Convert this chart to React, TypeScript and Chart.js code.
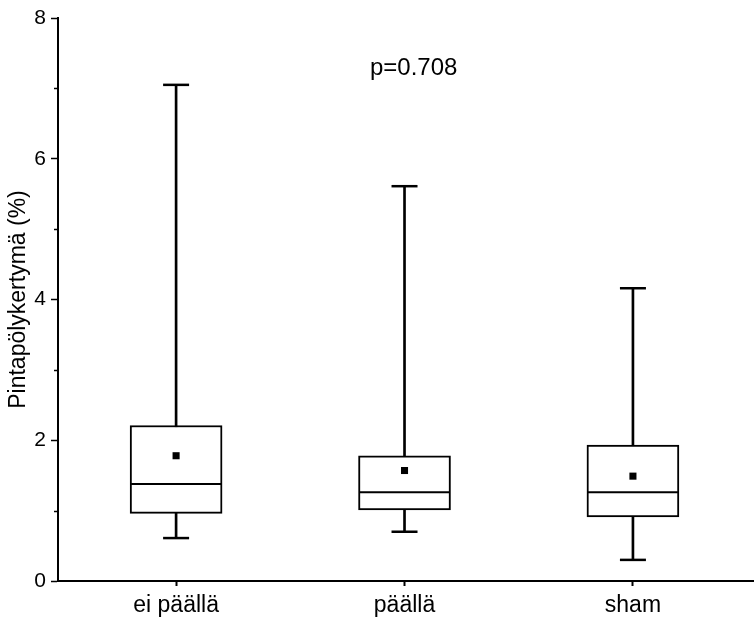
import React, { useEffect, useRef } from 'react';
import { Chart, registerables } from 'chart.js';

Chart.register(...registerables);

// ---- data ----
const categories = ['ei päällä', 'päällä', 'sham'];
const whiskerLow = [0.61, 0.70, 0.30];
const q1 = [0.96, 1.01, 0.91];
const median = [1.38, 1.26, 1.26];
const q3 = [2.21, 1.78, 1.93];
const whiskerHigh = [7.05, 5.61, 4.16];
const mean = [1.78, 1.57, 1.49];
const yMajorTicks = [0, 2, 4, 6, 8];
const yMinorTicks = [1, 3, 5, 7];
const yTitle = 'Pintapölykertymä (%)';
const pValueText = 'p=0.708';
const pValueAt = { x: 2.04, y: 7.29 };

const FONT = "'Liberation Sans', Arial, sans-serif";

export default function App() {
  const canvasRef = useRef<HTMLCanvasElement | null>(null);

  useEffect(() => {
    const canvas = canvasRef.current;
    if (!canvas) return;
    const xs = categories.map((_, i) => i + 1);

    const minorTicks = {
      id: 'minorTicks',
      afterDraw(chart: any) {
        const { ctx } = chart;
        const y = chart.scales.y;
        const left = chart.chartArea.left;
        ctx.save();
        ctx.strokeStyle = '#000';
        ctx.lineWidth = 1.5;
        yMinorTicks.forEach((v) => {
          const py = Math.round(y.getPixelForValue(v)) + 0.5;
          ctx.beginPath();
          ctx.moveTo(left - 4, py);
          ctx.lineTo(left, py);
          ctx.stroke();
        });
        ctx.restore();
      },
    };

    const pValue = {
      id: 'pValue',
      afterDatasetsDraw(chart: any) {
        const { ctx } = chart;
        ctx.save();
        ctx.fillStyle = '#000';
        ctx.font = `24px ${FONT}`;
        ctx.textAlign = 'center';
        ctx.textBaseline = 'middle';
        ctx.fillText(
          pValueText,
          chart.scales.x.getPixelForValue(pValueAt.x),
          chart.scales.y.getPixelForValue(pValueAt.y)
        );
        ctx.restore();
      },
    };

    const chart = new Chart(canvas, {
      type: 'bar',
      data: {
        datasets: [
          {
            type: 'bar',
            label: 'whisker',
            data: xs.map((x, i) => ({ x, y: [whiskerLow[i], whiskerHigh[i]] })) as any,
            backgroundColor: '#000',
            borderWidth: 0,
            barThickness: 2,
            grouped: false,
            order: 5,
          } as any,
          {
            type: 'bar',
            label: 'box',
            data: xs.map((x, i) => ({ x, y: [q1[i], q3[i]] })) as any,
            backgroundColor: '#fff',
            borderColor: '#000',
            borderWidth: 2,
            borderSkipped: false,
            barThickness: 92,
            grouped: false,
            order: 4,
          } as any,
          {
            type: 'line',
            label: 'median',
            data: xs.map((x, i) => ({ x, y: median[i] })),
            showLine: false,
            pointStyle: 'line',
            pointRadius: 45,
            pointBorderWidth: 2,
            pointBorderColor: '#000',
            borderColor: '#000',
            order: 1,
          } as any,
          {
            type: 'line',
            label: 'capHigh',
            data: xs.map((x, i) => ({ x, y: whiskerHigh[i] })),
            showLine: false,
            pointStyle: 'line',
            pointRadius: 13,
            pointBorderWidth: 2.5,
            pointBorderColor: '#000',
            borderColor: '#000',
            order: 1,
          } as any,
          {
            type: 'line',
            label: 'capLow',
            data: xs.map((x, i) => ({ x, y: whiskerLow[i] })),
            showLine: false,
            pointStyle: 'line',
            pointRadius: 13,
            pointBorderWidth: 2.5,
            pointBorderColor: '#000',
            borderColor: '#000',
            order: 1,
          } as any,
          {
            type: 'line',
            label: 'mean',
            data: xs.map((x, i) => ({ x, y: mean[i] })),
            showLine: false,
            pointStyle: 'rect',
            pointRadius: 5,
            pointBorderWidth: 0,
            pointBackgroundColor: '#000',
            backgroundColor: '#000',
            order: 0,
          } as any,
        ],
      },
      options: {
        animation: false,
        responsive: false,
        maintainAspectRatio: false,
        layout: { autoPadding: false, padding: { top: 18, right: 0, left: 0, bottom: 0 } },
        plugins: {
          legend: { display: false },
          tooltip: { enabled: false },
        },
        scales: {
          x: {
            type: 'linear',
            offset: false,
            min: 0.483,
            max: 3.53,
            afterBuildTicks: (scale: any) => {
              scale.ticks = xs.map((v) => ({ value: v }));
            },
            afterFit: (scale: any) => {
              scale.height = 36;
              scale.paddingLeft = 0;
              scale.paddingRight = 0;
            },
            grid: {
              offset: false,
              drawOnChartArea: false,
              drawTicks: true,
              tickLength: 5,
              tickColor: '#000',
              tickWidth: 2,
            },
            border: { color: '#000', width: 2 },
            ticks: {
              autoSkip: false,
              maxRotation: 0,
              color: '#000',
              font: { family: FONT, size: 23 },
              padding: 6,
              callback: (_v: any, i: number) => categories[i],
            },
          },
          y: {
            type: 'linear',
            min: 0,
            max: 8,
            afterBuildTicks: (scale: any) => {
              scale.ticks = yMajorTicks.map((v) => ({ value: v }));
            },
            afterFit: (scale: any) => {
              scale.width = 58;
              scale.paddingTop = 0;
              scale.paddingBottom = 0;
            },
            grid: {
              drawOnChartArea: false,
              drawTicks: true,
              tickLength: 7,
              tickColor: '#000',
              tickWidth: 1.5,
            },
            border: { color: '#000', width: 2 },
            ticks: {
              color: '#000',
              font: { family: FONT, size: 21 },
              padding: 5,
              callback: (v: any) => String(v),
            },
            title: {
              display: true,
              text: yTitle,
              color: '#000',
              font: { family: FONT, size: 23 },
              padding: { top: 5, bottom: 0 },
            },
          },
        },
      },
      plugins: [minorTicks, pValue],
    });

    return () => chart.destroy();
  }, []);

  return (
    <div style={{ position: 'absolute', left: 0, top: 0, width: 754, height: 617, background: '#fff' }}>
      <canvas ref={canvasRef} width={754} height={617} style={{ display: 'block', width: 754, height: 617 }} />
    </div>
  );
}
